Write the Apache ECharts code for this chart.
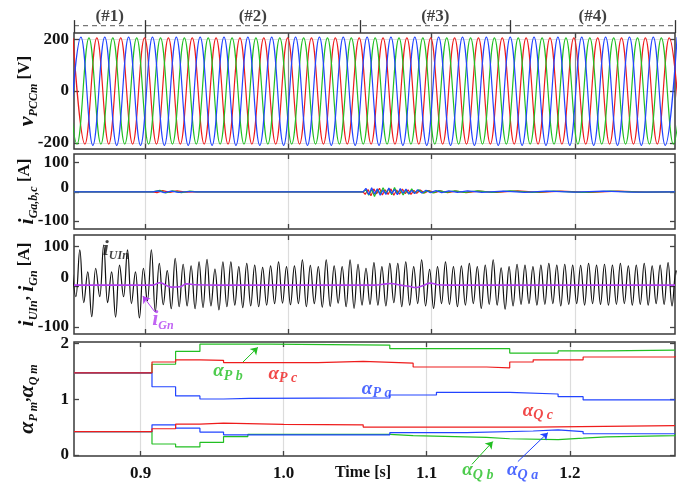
<!DOCTYPE html>
<html>
<head>
<meta charset="UTF-8">
<title>PCC voltage, currents and coefficients</title>
<script src="https://cdn.jsdelivr.net/npm/echarts@6/dist/echarts.min.js"></script>
<style>
    html, body { margin: 0; padding: 0; background: #fff; }
    #main { width: 699px; height: 487px; }
</style>
</head>
<body>
<div id="main"></div>
<script>
// ---------- values ----------
var sectionBounds = [0.85, 0.9, 1.05, 1.155, 1.27];
var sectionLabels = ['(#1)', '(#2)', '(#3)', '(#4)'];
var xTicks = [0.9, 1.0, 1.1, 1.2];

// PCC voltage: one extremum every half period (1/120 s) for each phase
var vStep = 1 / 120;
var vRedT0 = 0.8493, vBlueT0 = 0.8465, vGreenT0 = 0.8438;
var vRed = [
    205, -205, 205, -205, 205, -205, 205, -205, 205, -205, 205, -205,
    205, -205, 205, -205, 205, -205, 205, -205, 205, -205, 205, -205,
    205, -205, 205, -205, 205, -205, 205, -205, 205, -205, 205, -205,
    205, -205, 205, -205, 205, -205, 205, -205, 205, -205, 205, -205,
    205, -205, 205, -205
];
var vBlue = [
    -210, 208, -210, 208, -210, 208, -210, 208, -210, 208, -210, 208,
    -210, 208, -210, 208, -210, 208, -210, 208, -210, 208, -210, 208,
    -210, 208, -210, 208, -210, 208, -210, 208, -210, 208, -210, 208,
    -210, 208, -210, 208, -210, 208, -210, 208, -210, 208, -210, 208,
    -210, 208, -210, 208
];
var vGreen = [
    205, -205, 205, -205, 205, -205, 205, -205, 205, -205, 205, -205,
    205, -205, 205, -205, 205, -205, 205, -205, 205, -205, 205, -205,
    205, -205, 205, -205, 205, -205, 205, -205, 205, -205, 205, -205,
    205, -205, 205, -205, 205, -205, 205, -205, 205, -205, 205, -205,
    205, -205, 205, -205, 205
];

// grid currents i_Ga (blue), i_Gb (green), i_Gc (red)
var iGa = [[0.85,0],[0.905,0],[0.909,3],[0.913,-3],[0.918,2],[0.923,-2],[0.93,1],[0.935,0],[1.052,0],
    [1.054,12],[1.056,-10],[1.058,14],[1.060,-8],[1.062,10],[1.064,-12],[1.066,6],[1.068,-9],[1.070,13],
    [1.072,-6],[1.074,8],[1.076,-10],[1.078,11],[1.080,-5],[1.082,9],[1.084,-7],[1.086,5],[1.088,-6],
    [1.090,7],[1.093,-4],[1.096,5],[1.099,-3],[1.103,4],[1.107,-3],[1.112,3],[1.118,-2],[1.125,3],
    [1.135,-2],[1.15,2],[1.165,-2],[1.18,2],[1.2,-1],[1.22,2],[1.24,-1],[1.27,0]];
var iGb = [[0.85,0],[0.905,0],[0.91,5],[0.914,-4],[0.919,3],[0.925,-3],[0.931,2],[0.936,0],[1.052,0],
    [1.054,6],[1.056,-12],[1.058,8],[1.060,-16],[1.062,9],[1.064,-7],[1.066,14],[1.068,-6],[1.070,11],
    [1.072,-10],[1.074,15],[1.076,-7],[1.078,8],[1.080,-11],[1.082,6],[1.084,-8],[1.086,10],[1.088,-5],
    [1.091,7],[1.094,-5],[1.097,4],[1.101,-4],[1.105,4],[1.110,-2],[1.116,3],[1.123,-2],[1.132,3],
    [1.142,-2],[1.155,3],[1.17,-2],[1.185,2],[1.205,-2],[1.225,2],[1.245,-1],[1.27,0]];
var iGc = [[0.85,0],[0.905,0],[0.908,-3],[0.912,4],[0.917,-2],[0.922,3],[0.928,-1],[0.935,0],[1.052,0],
    [1.0535,-9],[1.0555,8],[1.0575,-14],[1.0595,10],[1.0615,-7],[1.0635,12],[1.0655,-11],[1.0675,7],
    [1.0695,-9],[1.0715,10],[1.0735,-12],[1.0755,6],[1.0775,-8],[1.0795,9],[1.0815,-6],[1.0835,7],
    [1.0855,-9],[1.0875,5],[1.0895,-5],[1.092,6],[1.095,-4],[1.098,4],[1.102,-3],[1.106,3],[1.111,-3],
    [1.117,2],[1.124,-3],[1.133,2],[1.145,-2],[1.16,3],[1.175,-2],[1.19,2],[1.21,-2],[1.23,2],[1.25,-1],[1.27,0]];

// i_UIn: one extremum every half period of 180 Hz (1/360 s)
var iUInStep = 1 / 360;
var iUInT0 = 0.8485;
var iUIn = [
    46, -25, 92, -40, 37, -75, 46, -25, 104, -40, 37, -76, 54, -25, 92, -42, 37, -78, 46, -35,
    92, -62, 58, -45, 40, -55, 71, -50, 56, -48, 52, -55, 62, -52, 68, -48, 44, -58, 62, -50,
    62, -46, 50, -52, 58, -48, 54, -50, 48, -46,
    52, -42, 62, -41, 50, -45, 52, -42, 67, -50, 53, -42, 50, -51, 67, -49, 52, -41, 50, -50,
    67, -54, 56, -46, 46, -44, 60, -46, 50, -48, 58, -40, 58, -50, 62, -46, 50, -42, 67, -48,
    43, -54, 50, -42, 62, -44, 50, -50, 52, -46, 58, -42,
    50, -54, 54, -44, 67, -46, 47, -56, 50, -48, 56, -44, 54, -42, 50, -46, 54, -44, 58, -42,
    54, -48, 56, -44, 54, -42, 53, -46, 58, -42, 54, -44, 56, -46, 54, -44, 58, -42, 52, -46,
    54, -44, 58, -46, 52, -42, 54, -44, 60, -48, 40, -30
];
var iGn = [[0.85,4],[0.905,4],[0.910,10],[0.914,4],[0.918,-1],[0.924,0],[0.929,7],[0.934,5],[0.95,4],
    [1.06,4],[1.066,6],[1.071,8],[1.078,4],[1.084,1],[1.089,-2],[1.094,3],[1.099,9],[1.104,5],[1.11,4],[1.27,4]];

// alpha coefficients, value after each switching instant
var aPa = [[0.8535,1.475],[0.908,1.225],[0.9245,1.06],[0.9415,1.005],[0.958,1.018],[0.976,1.025],[1.0742,1.077],
    [1.1068,1.125],[1.158,1.095],[1.1918,1.047],[1.2093,0.988],[1.2735,0.976]];
var aPb = [[0.8535,1.475],[0.908,1.63],[0.9245,1.86],[0.9415,1.99],[0.99,1.975],[1.0742,1.91],[1.158,1.83],
    [1.1918,1.87],[1.2257,1.885],[1.2735,1.89]];
var aPc = [[0.8535,1.475],[0.908,1.67],[0.9245,1.71],[0.9415,1.70],[0.958,1.66],[1.024,1.68],[1.0556,1.65],
    [1.0905,1.58],[1.1418,1.565],[1.158,1.67],[1.1744,1.71],[1.2093,1.76],[1.2735,1.78]];
var aQa = [[0.8535,0.42],[0.908,0.54],[0.9245,0.48],[0.9415,0.41],[0.958,0.36],[1.0742,0.40],[1.1278,0.43],
    [1.1744,0.45],[1.1918,0.42],[1.2093,0.38],[1.2735,0.375]];
var aQb = [[0.8535,0.42],[0.908,0.196],[0.9245,0.143],[0.9415,0.225],[0.958,0.33],[0.975,0.37],[1.0742,0.345],
    [1.0905,0.315],[1.1418,0.29],[1.158,0.275],[1.1918,0.30],[1.2093,0.325],[1.2257,0.345],[1.2735,0.37]];
var aQc = [[0.8535,0.42],[0.908,0.47],[0.9245,0.553],[0.9415,0.57],[0.958,0.55],[1.0,0.54],[1.0556,0.50],
    [1.1744,0.525],[1.2735,0.53]];

// axis ranges and tick values per panel
var xRangeTop = [0.85, 1.27];
var xRangeBottom = [0.8535, 1.2735];
var yRanges = [[-224, 224], [-128, 130], [-118, 129], [-0.02, 2.03]];
var yTicks = [[-200, 0, 200], [-100, 0, 100], [-100, 0, 100], [0, 1, 2]];

// ---------- chart ----------
var RED = '#ee1c1c', GREEN = '#22bf22', BLUE = '#2244ff', PURPLE = '#b23ff0', INK = '#111';
var FONT = 'Liberation Serif';
var zeroLift = [0, 8, 18, 0];
var yNames = [
    '{m|v}{s|PCCm}{n| [V]}',
    '{m|i}{s|Ga,b,c}{n| [A]}',
    '{m|i}{s|UIn}{n|, }{m|i}{s|Gn}{n| [A]}',
    '{m|α}{s|P m}{n|,}{m|α}{s|Q m}'
];

function wave(t0, step, vals) {
    return vals.map(function (v, i) { return [t0 + i * step, v]; });
}
function subRich(c, big, small) {
    return {
        m: {fontFamily: FONT, fontStyle: 'italic', fontWeight: 'bold', fontSize: big, lineHeight: big + 2, verticalAlign: 'top', color: c},
        s: {fontFamily: FONT, fontStyle: 'italic', fontWeight: 'bold', fontSize: small, lineHeight: small, verticalAlign: 'bottom', color: c},
        n: {fontFamily: FONT, fontWeight: 'bold', fontSize: 17, lineHeight: big + 2, verticalAlign: 'top', color: c}
    };
}

var grids = [
    {left: 74, right: 24, top: 33, height: 116},
    {left: 74, right: 24, top: 154, height: 75},
    {left: 74, right: 24, top: 235, height: 99},
    {left: 74, right: 24, top: 342, height: 114},
    {left: 74, right: 24, top: 5, height: 28}
];
grids.forEach(function (g, i) {
    g.show = i < 4;
    g.borderColor = '#3a3a3a';
    g.borderWidth = 1.5;
    g.backgroundColor = '#fff';
    g.containLabel = false;
    g.outerBoundsMode = 'none';
});

var tickStyle = {color: '#444', width: 1.3};
var xAxes = [], yAxes = [];
for (var i = 0; i < 4; i++) {
    var xr = i === 3 ? xRangeBottom : xRangeTop;
    xAxes.push({
        type: 'value', gridIndex: i, min: xr[0], max: xr[1], position: 'bottom',
        axisLine: {show: false, onZero: false},
        axisTick: {show: true, inside: true, length: 5, lineStyle: tickStyle, customValues: xTicks},
        axisLabel: {show: i === 3, customValues: xTicks, margin: 9, color: INK,
            fontFamily: FONT, fontWeight: 'bold', fontSize: 17,
            formatter: function (v) { return v.toFixed(1); }},
        splitLine: {show: true, lineStyle: {color: i === 0 ? '#8a8a8a' : '#dcdcdc', width: 1.2}},
        name: i === 3 ? 'Time [s]' : '', nameLocation: 'middle', nameGap: 9, nameMoveOverlap: false,
        nameTextStyle: {fontFamily: FONT, fontWeight: 'bold', fontSize: 16, color: INK,
            verticalAlign: 'top', padding: [0, 23, 0, 0]}
    });
    xAxes.push({
        type: 'value', gridIndex: i, min: xr[0], max: xr[1], position: 'top',
        axisLine: {show: false, onZero: false},
        axisTick: {show: true, inside: true, length: 5, lineStyle: tickStyle, customValues: xTicks},
        axisLabel: {show: false}, splitLine: {show: false}
    });
    (function (p) {
        var rich = {z: {fontFamily: FONT, fontWeight: 'bold', fontSize: 17, color: INK, padding: [0, 0, zeroLift[p], 0]}};
        yAxes.push({
            type: 'value', gridIndex: p, min: yRanges[p][0], max: yRanges[p][1],
            axisLine: {show: false, onZero: false},
            axisTick: {show: true, inside: true, length: 5, lineStyle: tickStyle, customValues: yTicks[p]},
            axisLabel: {customValues: yTicks[p], margin: 5, color: INK,
                fontFamily: FONT, fontWeight: 'bold', fontSize: 17, rich: rich,
                formatter: function (v) { return (v === 0 && zeroLift[p]) ? '{z|0}' : String(v); }},
            splitLine: {show: p === 0, lineStyle: {color: '#e2e2e2', width: 1}},
            name: yNames[p], nameLocation: 'middle', nameGap: 34, nameMoveOverlap: false,
            nameTextStyle: {rich: subRich(INK, 22, 12)}
        });
    })(i);
    yAxes.push({
        type: 'value', gridIndex: i, min: yRanges[i][0], max: yRanges[i][1], position: 'right',
        axisLine: {show: false, onZero: false},
        axisTick: {show: true, inside: true, length: 5, lineStyle: tickStyle, customValues: yTicks[i]},
        axisLabel: {show: false}, splitLine: {show: false}
    });
}
// section bar on top
xAxes.push({type: 'value', gridIndex: 4, min: xRangeTop[0], max: xRangeTop[1], show: false});
yAxes.push({type: 'value', gridIndex: 4, min: 0, max: 1, show: false});

function trace(p, data, color, extra) {
    var s = {
        type: 'line', xAxisIndex: 2 * p, yAxisIndex: 2 * p, data: data,
        showSymbol: false, symbol: 'none', silent: true,
        lineStyle: {color: color, width: 1.2}
    };
    for (var k in extra) s[k] = extra[k];
    return s;
}
function note(p, t, v, text, color, big, small) {
    return {
        type: 'scatter', xAxisIndex: 2 * p, yAxisIndex: 2 * p, symbolSize: 0, silent: true, clip: false, z: 5,
        data: [[t, v]],
        label: {show: true, position: 'inside', formatter: text, rich: subRich(color, big, small)}
    };
}
function arrow(p, from, to, color) {
    return {
        type: 'lines', coordinateSystem: 'cartesian2d', xAxisIndex: 2 * p, yAxisIndex: 2 * p,
        silent: true, clip: false, z: 5,
        symbol: ['none', 'arrow'], symbolSize: 7,
        lineStyle: {color: color, width: 1, opacity: 1},
        data: [{coords: [from, to]}]
    };
}

var smoothW = {smooth: 0.4, sampling: 'none'};

var series = [
    trace(0, wave(vRedT0, vStep, vRed), RED, smoothW),
    trace(0, wave(vGreenT0, vStep, vGreen), GREEN, smoothW),
    trace(0, wave(vBlueT0, vStep, vBlue), BLUE, smoothW),

    trace(1, iGc, RED, {}),
    trace(1, iGb, GREEN, {}),
    trace(1, iGa, BLUE, {}),

    trace(2, wave(iUInT0, iUInStep, iUIn), INK, smoothW),
    trace(2, iGn, PURPLE, {smooth: 0.5, lineStyle: {color: PURPLE, width: 1.6}}),

    trace(3, aPb, GREEN, {step: 'end'}),
    trace(3, aQb, GREEN, {step: 'end'}),
    trace(3, aPa, BLUE, {step: 'end'}),
    trace(3, aQa, BLUE, {step: 'end'}),
    trace(3, aPc, RED, {step: 'end'}),
    trace(3, aQc, RED, {step: 'end'}),

    // annotations
    note(2, 0.8792, 92, '{m|i}{s|UIn}', INK, 22, 12),
    note(2, 0.9121, -83, '{m|i}{s|Gn}', PURPLE, 22, 12),
    arrow(2, [0.9065, -63], [0.8981, -23], PURPLE),

    note(3, 0.9611, 1.48, '{m|α}{s|P b}', GREEN, 19, 14),
    arrow(3, [0.9716, 1.67], [0.982, 1.935], GREEN),
    note(3, 0.9995, 1.44, '{m|α}{s|P c}', RED, 19, 14),
    note(3, 1.065, 1.17, '{m|α}{s|P a}', BLUE, 19, 14),
    note(3, 1.1777, 0.77, '{m|α}{s|Q c}', RED, 19, 14),
    note(3, 1.1357, -0.30, '{m|α}{s|Q b}', GREEN, 19, 14),
    arrow(3, [1.1316, -0.17], [1.1462, 0.24], GREEN),
    note(3, 1.167, -0.30, '{m|α}{s|Q a}', BLUE, 19, 14),
    arrow(3, [1.1637, -0.12], [1.1847, 0.40], BLUE),

    // section bar
    {
        type: 'line', xAxisIndex: 8, yAxisIndex: 8, silent: true, showSymbol: false, symbol: 'none',
        data: [[xRangeTop[0], 0.26], [xRangeTop[1], 0.26]],
        lineStyle: {color: '#777', width: 1.2, type: [5, 4]},
        markLine: {
            silent: true, symbol: 'none', label: {show: false},
            lineStyle: {type: 'solid', color: '#333', width: 1.3},
            data: sectionBounds.map(function (b) { return [{coord: [b, 0]}, {coord: [b, 0.46]}]; })
        }
    },
    {
        type: 'scatter', xAxisIndex: 8, yAxisIndex: 8, symbolSize: 0, silent: true, clip: false,
        data: sectionLabels.map(function (s, k) {
            return {value: [(sectionBounds[k] + sectionBounds[k + 1]) / 2, 0.57], name: s};
        }),
        label: {show: true, position: 'inside', formatter: '{b}', color: INK,
            fontFamily: FONT, fontWeight: 'bold', fontSize: 17}
    }
];

var chart = echarts.init(document.getElementById('main'));
chart.setOption({
    animation: false,
    backgroundColor: '#fff',
    grid: grids,
    xAxis: xAxes,
    yAxis: yAxes,
    series: series
});
</script>
</body>
</html>
